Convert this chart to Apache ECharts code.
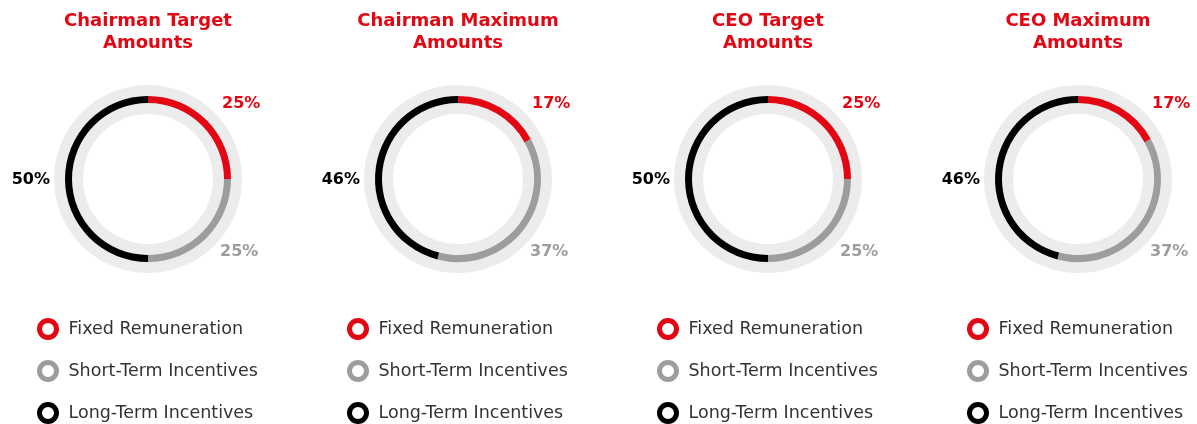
<!DOCTYPE html>
<html><head><meta charset="utf-8">
<script src="https://cdn.jsdelivr.net/npm/echarts@6/dist/echarts.min.js"></script>
<style>html,body{margin:0;padding:0;background:#fff}#c{width:1197px;height:424px}</style>
</head><body><div id="c"></div>
<script>
const titles = ['Chairman Target\nAmounts', 'Chairman Maximum\nAmounts', 'CEO Target\nAmounts', 'CEO Maximum\nAmounts'];
const components = ['Fixed Remuneration', 'Short-Term Incentives', 'Long-Term Incentives'];
const chairmanTarget = [25, 25, 50];
const chairmanMaximum = [17, 37, 46];
const ceoTarget = [25, 25, 50];
const ceoMaximum = [17, 37, 46];
const allValues = [chairmanTarget, chairmanMaximum, ceoTarget, ceoMaximum];

const colors = ['#e30613', '#9d9d9d', '#000000'];
const FONT = 'DejaVu Sans';
const centersX = [148, 458, 768, 1078];
const CY = 179;

const chart = echarts.init(document.getElementById('c'), null, {renderer: 'canvas'});
const title = [], legend = [], series = [];
allValues.forEach((vals, i) => {
  const cx = centersX[i];
  title.push({
    text: titles[i], left: cx, top: 10, textAlign: 'center', padding: 0,
    textStyle: {fontFamily: FONT, fontWeight: 'bold', fontSize: 18, color: '#e30613', lineHeight: 22}
  });
  legend.push({
    orient: 'vertical', left: cx - 111, top: 318, bottom: 0, itemGap: 20, padding: 0,
    itemWidth: 17, itemHeight: 17, icon: 'circle', selectedMode: false,
    textStyle: {fontFamily: FONT, fontSize: 17.5, color: '#333', padding: [0, 0, 0, 7], lineHeight: 22},
    data: components.map((n, k) => ({name: n, itemStyle: {color: '#fff', borderColor: colors[k], borderWidth: 5}}))
  });
  series.push({
    type: 'pie', silent: true, radius: [65, 94], center: [cx, CY], label: {show: false},
    itemStyle: {color: '#ececec'}, data: [{name: 'bg' + i, value: 1}], legendHoverLink: false
  });
  series.push({
    type: 'pie', radius: [76, 83], center: [cx, CY], startAngle: 90, clockwise: true,
    silent: true,
    label: {show: true, position: 'inside', overflow: 'none', formatter: '{c}%', fontFamily: FONT, fontSize: 16, fontWeight: 'bold'},
    labelLine: {show: false},
    labelLayout: function (p) {
      if (p.dataIndex === 0) return {x: cx + 74, y: 104, align: 'left', verticalAlign: 'middle'};
      if (p.dataIndex === 1) return {x: cx + 72, y: 252, align: 'left', verticalAlign: 'middle'};
      return {x: cx - 98, y: 180, align: 'right', verticalAlign: 'middle'};
    },
    data: vals.map((v, k) => ({name: components[k], value: v, itemStyle: {color: colors[k]}, label: {color: colors[k]}}))
  });
});
chart.setOption({animation: false, title, legend, series});
</script></body></html>
